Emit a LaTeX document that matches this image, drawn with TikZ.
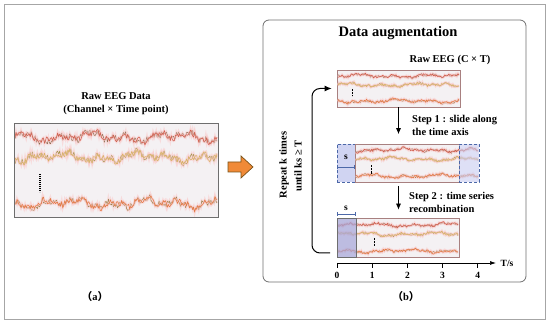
\documentclass[tikz,border=0pt]{standalone}
\usepackage{fontspec}
\setmainfont{Liberation Serif}
\newfontfamily\cjk{Noto Sans CJK SC}
\usetikzlibrary{arrows.meta}
\definecolor{framegray}{HTML}{A6A6A6}
\definecolor{boxgray}{HTML}{6E6E6E}
\definecolor{eegfill}{HTML}{F4F1F3}
\definecolor{eegborder}{HTML}{A88080}
\definecolor{halo}{HTML}{FBCACA}
\definecolor{chA}{HTML}{D0604F}
\definecolor{chAb}{HTML}{8E6E50}
\definecolor{chB}{HTML}{D8B468}
\definecolor{chBb}{HTML}{A89650}
\definecolor{chC}{HTML}{E47A46}
\definecolor{chCb}{HTML}{9C8048}
\definecolor{lav}{HTML}{C8CCF0}
\definecolor{lavdark}{HTML}{A6A6DA}
\definecolor{dimblue}{HTML}{4C68A8}
\definecolor{orangefill}{HTML}{F08A38}
\definecolor{orangeedge}{HTML}{7A5218}
% #1 x0, #2 x1, #3 y, #4 amplitude, #5 colour, #6 samples
\newcommand\eegline[6]{%
  \draw[#5, line width=0.55pt, line join=round,
        preaction={draw=halo, line width=2.4pt, opacity=0.55}]
    plot[domain=#1:#2, samples=#6]
    (\x, {#3 + #4*(0.42*rand + 0.32*sin(11*\x+#3*13) + 0.3*sin(4.3*\x+#3*7) + 0.2*sin(27*\x+#3))});
}
\newcommand\eegchan[7]{% x0 x1 y amp colA colB samples
  \eegline{#1}{#2}{#3}{#4}{#6}{#7}
  \eegline{#1}{#2}{#3}{#4}{#5}{#7}
}
\tikzset{
  frame/.style={draw=framegray, line width=0.8pt},
  panel/.style={draw=boxgray, line width=0.8pt, rounded corners=6pt},
  bigeeg/.style={draw=boxgray, fill=eegfill, line width=0.9pt, inner sep=0pt},
  smalleeg/.style={draw=eegborder, fill=eegfill, line width=0.7pt, inner sep=0pt, minimum height=38pt},
  lavdash/.style={draw=dimblue, dashed, dash pattern=on 3pt off 2pt, fill=lav, fill opacity=0.85, line width=0.7pt, inner sep=0pt, minimum height=38pt},
  title/.style={font=\fontsize{14.5}{16}\selectfont\bfseries},
  lbl/.style={font=\fontsize{10.5}{13}\selectfont\bfseries, inner sep=0pt},
  small/.style={font=\fontsize{9.5}{11}\selectfont\bfseries, inner sep=0pt},
  arr/.style={line width=0.7pt, -{Latex[length=6pt,width=5pt]}},
  looparr/.style={line width=1pt, rounded corners=8pt, -{Latex[length=7pt,width=6pt]}},
  dim/.style={draw=dimblue, line width=0.6pt, {Bar[width=4pt]}-{Bar[width=4pt]}},
  dots/.style={line width=1.2pt, dash pattern=on 0.8pt off 1.2pt},
  sdots/.style={line width=0.6pt, dash pattern=on 0.6pt off 0.8pt},
}
\begin{document}
\begin{tikzpicture}[x=1pt,y=-1pt]
\pgfmathsetseed{4242}
\useasboundingbox (0,0) rectangle (550,328);
\draw[frame] (4,4) rectangle (545,319);

% ---------- panel (a)
\node[lbl, align=center] (rawtitle) at (116,104) {Raw EEG Data\\(Channel × Time point)};
\node[bigeeg, minimum width=204pt, minimum height=94pt] (rawbox) at (116,170) {};
\eegchan{15}{217}{137}{8}{chA}{chAb}{200}
\eegchan{15}{217}{157}{8}{chB}{chBb}{200}
\eegchan{15}{217}{203}{8}{chC}{chCb}{200}
\node[bigeeg, fill=none, minimum width=204pt, minimum height=94pt] at (116,170) {};
\draw[dots] (40,174) -- (40,192);
\node[lbl] (labA) at (95,297) {{\cjk （}a{\cjk ）}};

% orange arrow
\draw[fill=orangefill, draw=orangeedge, line width=0.7pt, line join=miter]
  (228,162) -- (241,162) -- (241,156) -- (253,167) -- (241,178) -- (241,172) -- (228,172) -- cycle;

% ---------- panel (b)
\draw[panel] (263,20) rectangle (526,282);
\node[title] (augtitle) at (398,33) {Data augmentation};
\node[lbl] (rawc) at (450,60) {Raw EEG (C × T)};

% top box
\node[smalleeg, minimum width=123pt, minimum height=37pt] (topbox) at (398.5,88.5) {};
\eegchan{338}{459}{76}{3}{chA}{chAb}{120}
\eegchan{338}{459}{85}{3}{chB}{chBb}{120}
\eegchan{338}{459}{101}{3}{chC}{chCb}{120}
\draw[sdots] (352,89) -- (352,96);

% middle row
\node[lavdash, minimum width=18pt] (midleft) at (346,163.5) {};
\node[smalleeg, minimum width=104pt] (midmain) at (407,163.5) {};
\eegchan{356}{478}{150}{3}{chA}{chAb}{120}
\eegchan{356}{478}{159}{3}{chB}{chBb}{120}
\eegchan{356}{478}{176}{3}{chC}{chCb}{120}
\node[lavdash, minimum width=20pt, fill opacity=0.6] (midright) at (469,163.5) {};
\draw[sdots] (371,165) -- (371,174);
\node[small] (s1) at (346,157) {s};
\draw[dim] (337,167) -- (355,167);

% bottom row
\node[smalleeg, minimum width=122pt, minimum height=39pt] (botbox) at (398,237.5) {};
\eegchan{338}{458}{225}{3}{chA}{chAb}{120}
\eegchan{338}{458}{234}{3}{chB}{chBb}{120}
\eegchan{338}{458}{251}{3}{chC}{chCb}{120}
\node[draw=boxgray, fill=lavdark, fill opacity=0.7, line width=0.7pt, inner sep=0pt, minimum width=19pt, minimum height=39pt] (botleft) at (346.5,237.5) {};
\draw[sdots] (374,238) -- (374,246);
\node[small] (s2) at (346,208) {s};
\draw[dim] (337,214) -- (356,214);

% step arrows and texts
\draw[arr, shorten >=10pt] (topbox.south) -- (midmain.north -| topbox.south);
\node[lbl, align=left, anchor=north west] (step1) at (412,115) {Step 1 : slide along\\the time axis};
\draw[arr, shorten <=3pt, shorten >=8pt] (midmain.south -| topbox.south) -- (botbox.north -| topbox.south);
\node[lbl, align=left, anchor=north west] (step2) at (409,192) {Step 2 : time series\\recombination};

% loop arrow
\coordinate (lstart) at (330,253);
\coordinate (lcorner) at (312,88.5);
\draw[looparr] (lstart) -| (lcorner) -- ([xshift=-5pt]topbox.west);
\node[lbl, rotate=90] (rep1) at (284,165) {Repeat k times};
\node[lbl, rotate=90] (rep2) at (298,166) {until ks ≥ T};

% time axis
\coordinate (ax0) at (337,263);
\coordinate (ax1) at (496,263);
\draw[line width=0.7pt, -{Latex[length=6pt,width=4pt]}] (ax0) -- (ax1);
\node[small] (ts) at (507,263) {T/s};
\foreach \i in {0,...,4}{
  \draw[line width=0.7pt] (337+35.2*\i,263) -- (337+35.2*\i,268);
  \node[small] (tick\i) at (337+35.2*\i,275) {\i};
}
\node[lbl] (labB) at (406,297) {{\cjk （}b{\cjk ）}};
\end{tikzpicture}
\end{document}
